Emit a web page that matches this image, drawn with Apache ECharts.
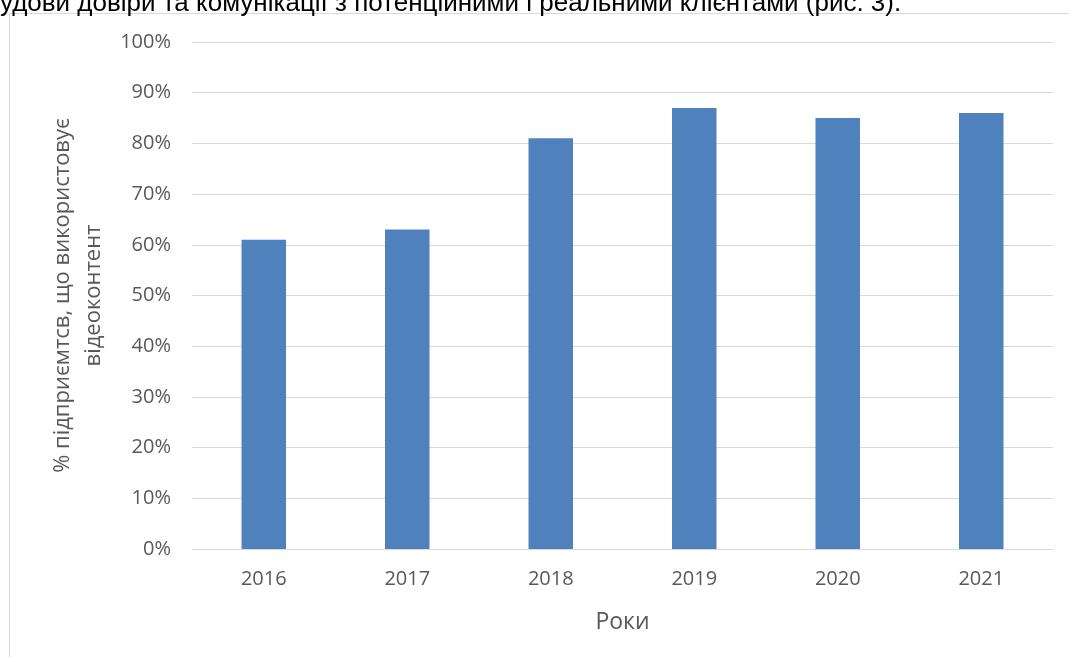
<!DOCTYPE html>
<html>
<head>
<meta charset="utf-8">
<style>
    html,body{margin:0;padding:0;background:#fff;}
    #chart{width:1069px;height:657px;}
</style>
</head>
<body>
<div id="chart"></div>
<script src="https://cdn.jsdelivr.net/npm/echarts@6/dist/echarts.min.js"></script>
<script>
    var years = ['2016', '2017', '2018', '2019', '2020', '2021'];
    var shares = [61, 63, 81, 87, 85, 86];
    var yTitle = '% підприємтсв, що використовує\nвідеоконтент';
    var xTitle = 'Роки';
    var captionText = 'удови довіри та комунікації з потенційними і реальними клієнтами (рис. 3).';

    var myChart = echarts.init(document.getElementById('chart'));
    var option = {
        animation: false,
        backgroundColor: '#fff',
        graphic: [
            {
                type: 'rect',
                shape: {x: 9.5, y: 13.5, width: 1200, height: 800},
                style: {fill: 'none', stroke: '#d9d9d9', lineWidth: 1}
            },
            {
                type: 'text',
                left: 0,
                top: -9,
                style: {
                    text: captionText,
                    fontFamily: 'Liberation Sans',
                    fontSize: 26,
                    fill: '#000'
                }
            }
        ],
        grid: {
            left: 192,
            right: 16,
            top: 42,
            bottom: 108
        },
        xAxis: {
            type: 'category',
            data: years,
            name: xTitle,
            nameLocation: 'middle',
            nameGap: 62,
            nameTextStyle: {color: '#595959', fontSize: 23, fontFamily: 'Open Sans'},
            axisLine: {lineStyle: {color: '#d9d9d9', width: 1}},
            axisTick: {show: false},
            axisLabel: {color: '#595959', fontSize: 20, fontFamily: 'Open Sans', margin: 20}
        },
        yAxis: {
            type: 'value',
            min: 0,
            max: 100,
            interval: 10,
            name: yTitle,
            nameLocation: 'middle',
            nameGap: 83,
            nameRotate: 90,
            nameTextStyle: {color: '#595959', fontSize: 22, fontFamily: 'Open Sans', lineHeight: 31},
            axisLine: {show: false},
            axisTick: {show: false},
            axisLabel: {color: '#595959', fontSize: 20, fontFamily: 'Open Sans', margin: 21, formatter: '{value}%'},
            splitLine: {lineStyle: {color: '#d9d9d9', width: 1}}
        },
        series: [
            {
                type: 'bar',
                data: shares,
                barWidth: '31%',
                itemStyle: {color: '#4f81bd'}
            }
        ]
    };
    myChart.setOption(option);
</script>
</body>
</html>
